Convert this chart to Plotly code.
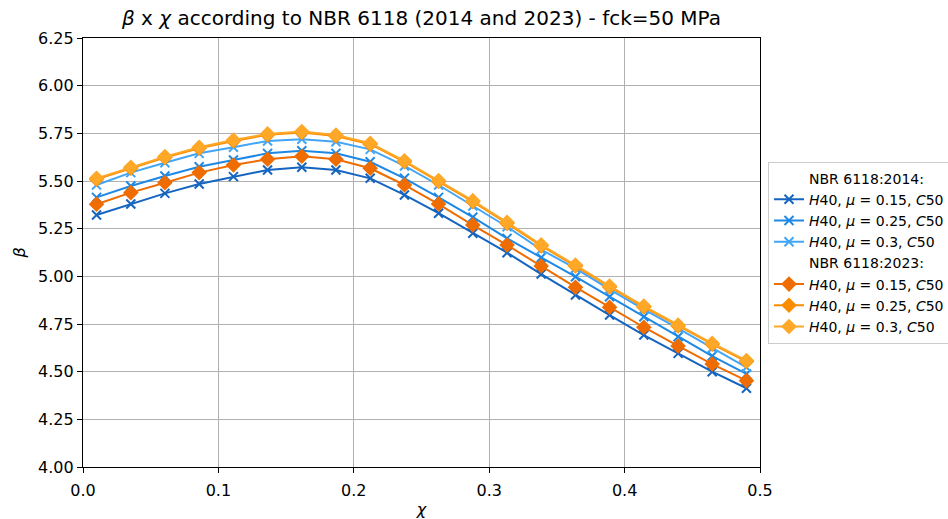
import plotly.graph_objects as go

chi = [0.01, 0.0353, 0.0605, 0.0858, 0.1111, 0.1363, 0.1616, 0.1868, 0.2121, 0.2374,
       0.2626, 0.2879, 0.3132, 0.3384, 0.3637, 0.3889, 0.4142, 0.4395, 0.4647, 0.49]

b2014_015 = [5.322, 5.379, 5.435, 5.484, 5.523, 5.558, 5.572, 5.558, 5.514, 5.427,
             5.331, 5.226, 5.124, 5.012, 4.902, 4.797, 4.692, 4.596, 4.500, 4.413]
b2014_025 = [5.414, 5.474, 5.526, 5.575, 5.610, 5.645, 5.659, 5.645, 5.601, 5.514,
             5.414, 5.310, 5.199, 5.099, 4.998, 4.893, 4.788, 4.683, 4.582, 4.488]
b2014_030 = [5.479, 5.544, 5.596, 5.645, 5.677, 5.710, 5.719, 5.706, 5.666, 5.579,
             5.479, 5.369, 5.260, 5.140, 5.042, 4.932, 4.827, 4.727, 4.623, 4.523]
b2023_015 = [5.378, 5.439, 5.491, 5.544, 5.584, 5.614, 5.630, 5.614, 5.567, 5.479,
             5.379, 5.269, 5.164, 5.054, 4.943, 4.838, 4.733, 4.635, 4.540, 4.453]
b2023_025 = [5.509, 5.567, 5.623, 5.672, 5.710, 5.742, 5.754, 5.736, 5.693, 5.601,
             5.497, 5.392, 5.278, 5.160, 5.054, 4.944, 4.839, 4.740, 4.644, 4.553]
b2023_030 = [5.514, 5.572, 5.628, 5.677, 5.715, 5.747, 5.759, 5.741, 5.698, 5.606,
             5.502, 5.397, 5.283, 5.165, 5.059, 4.949, 4.844, 4.745, 4.649, 4.558]

x_ticks = [0.0, 0.1, 0.2, 0.3, 0.4, 0.5]
x_ticktext = ["0.0", "0.1", "0.2", "0.3", "0.4", "0.5"]
y_ticks = [4.00, 4.25, 4.50, 4.75, 5.00, 5.25, 5.50, 5.75, 6.00, 6.25]

labels = ["<i>H</i>40, <i>μ</i> = 0.15, <i>C</i>50",
          "<i>H</i>40, <i>μ</i> = 0.25, <i>C</i>50",
          "<i>H</i>40, <i>μ</i> = 0.3, <i>C</i>50"]
colors_2014 = ["#1565C0", "#1E88E5", "#42A5F5"]
colors_2023 = ["#EF6C00", "#FB8C00", "#FFA726"]

FONT = "DejaVu Sans"
fig = go.Figure()

def header(text):
    fig.add_trace(go.Scatter(x=[None], y=[None], mode="lines", name=text,
                             line=dict(color="rgba(0,0,0,0)", width=0),
                             hoverinfo="skip"))

header("NBR 6118:2014:")
for ys, c, lab in zip([b2014_015, b2014_025, b2014_030], colors_2014, labels):
    fig.add_trace(go.Scatter(x=chi, y=ys, mode="lines+markers", name=lab,
                             line=dict(color=c, width=2),
                             marker=dict(symbol="x-thin", size=9, color=c,
                                         line=dict(color=c, width=2))))
header("NBR 6118:2023:")
for ys, c, lab in zip([b2023_015, b2023_025, b2023_030], colors_2023, labels):
    fig.add_trace(go.Scatter(x=chi, y=ys, mode="lines+markers", name=lab,
                             line=dict(color=c, width=2),
                             marker=dict(symbol="diamond", size=12, color=c,
                                         line=dict(width=0))))

axis_common = dict(showline=True, linecolor="black", linewidth=1.2, mirror=True,
                   ticks="outside", ticklen=5, tickcolor="black",
                   showgrid=True, gridcolor="#b0b0b0", gridwidth=1,
                   zeroline=False, automargin=False,
                   tickfont=dict(family=FONT, size=16, color="black"))

fig.update_layout(
    width=948, height=519,
    margin=dict(l=83, r=188, t=38, b=52, autoexpand=False),
    paper_bgcolor="white", plot_bgcolor="white",
    title=dict(text="<i>β</i> x <i>χ</i> according to NBR 6118 (2014 and 2023) - fck=50 MPa",
               xref="paper", x=0.5, xanchor="center",
               yref="container", y=1 - 18 / 519, yanchor="middle",
               font=dict(family=FONT, size=20, color="black")),
    xaxis=dict(range=[0, 0.5], tickvals=x_ticks, ticktext=x_ticktext,
               ticklabelstandoff=4,
               title=dict(text="<i>χ</i>", font=dict(family=FONT, size=16, color="black"),
                          standoff=10),
               **axis_common),
    yaxis=dict(range=[4.0, 6.25], tickvals=y_ticks, tickformat=".2f",
               title=dict(text="<i>β</i>", font=dict(family=FONT, size=16, color="black"),
                          standoff=8),
               **axis_common),
    legend=dict(x=(768 - 83) / (760 - 83), xanchor="left", y=0.5, yanchor="middle",
                bordercolor="#cccccc", borderwidth=1, bgcolor="white",
                font=dict(family=FONT, size=14, color="black"),
                tracegroupgap=0, itemwidth=30),
    showlegend=True,
)

fig.write_html("out.html")
